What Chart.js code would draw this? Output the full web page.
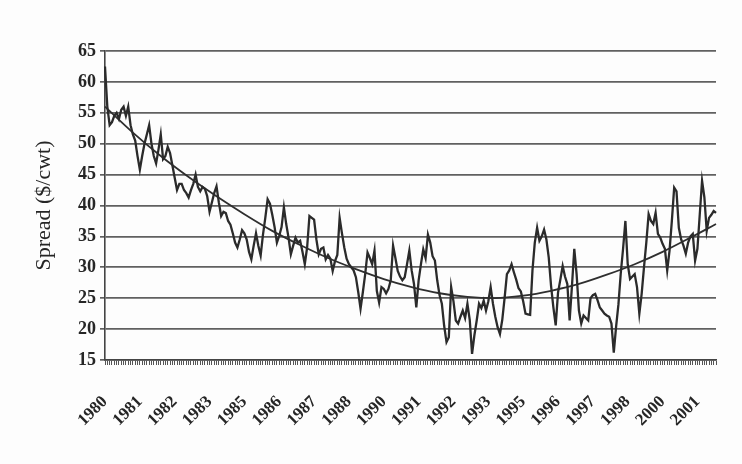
<!DOCTYPE html>
<html>
<head>
<meta charset="utf-8">
<script src="https://cdn.jsdelivr.net/npm/chart.js@4.4.1/dist/chart.umd.min.js"></script>
<style>
  html, body { margin: 0; padding: 0; background: #fdfdfd; }
  #wrap { width: 742px; height: 464px; position: relative; }
</style>
</head>
<body>
<div id="wrap"><canvas id="spread-chart"></canvas></div>
<script>
// --- Dados (mensal, jan/1980 a dez/2001) ---
const START_YEAR = 1980;
const LABEL_EVERY = 15; // um rótulo a cada 15 meses, como no original

const yearLabels = ['1980', '1981', '1982', '1983', '1985', '1986', '1987', '1988', '1990',
    '1991', '1992', '1993', '1995', '1996', '1997', '1998', '2000', '2001'];

const spread = [
    62.5, 56, 53, 53.5, 54.5, 55, 54, 55.5, 56, 54.5, 56, 53,
    51.5, 50.5, 48, 45.8, 48, 50, 51.5, 53, 50, 48, 46.8, 49,
    51.5, 47.5, 48, 49.5, 48.5, 46.5, 44.5, 42.5, 43.5, 43.5, 42.5, 42,
    41.3, 42.5, 43.5, 45, 43, 42.3, 43, 42.7, 41.5, 39, 40.5, 42,
    43.1, 40.5, 38.3, 39, 38.8, 37.5, 36.9, 35.5, 34, 33.2, 34.5, 36,
    35.5, 34.5, 32.5, 31.3, 33.5, 35.5, 33.5, 31.9, 35.3, 38, 41, 40.3,
    38.5, 36.5, 34, 35.1, 36.5, 39.7, 37, 34.8, 32.1, 33.5, 34.8, 34,
    34.3, 32.5, 30.5, 33.2, 38.3, 38, 37.7, 34.5, 32.1, 33, 33.2, 31.3,
    32, 31.4, 29.4, 31, 32, 38, 35.5, 33.2, 31.4, 30.5, 30, 29.5,
    28.4, 26, 23.3, 26, 28.9, 32.4, 31.5, 30.5, 32.7, 26.2, 24.3, 26.8,
    26.5, 25.8, 26.5, 27.9, 33.5, 31.5, 29.4, 28.5, 27.9, 28.4, 30.5, 32.7,
    29.5, 27.3, 23.5, 27.9, 30.5, 32.9, 31.5, 35.3, 34, 31.8, 31.1, 27.9,
    25.5, 24.1, 20.5, 17.9, 18.7, 26.8, 24.5, 21.4, 20.9, 22, 23, 21.8,
    24.1, 21.5, 16, 19, 21.4, 24.1, 23.4, 24.6, 23, 24.5, 26.8, 24.1,
    22, 20.3, 19.2, 21.5, 25, 28.9, 29.5, 30.5, 29.2, 28, 26.6, 26.1,
    24.5, 22.5, 22.4, 22.3, 29.5, 34, 36.4, 34.3, 35, 36.1, 34.5, 31.6,
    27, 23.5, 20.6, 25.9, 28, 30.2, 28.5, 27.3, 21.4, 27, 33, 28.9,
    23, 20.9, 22.2, 21.8, 21.4, 25, 25.5, 25.7, 24.7, 23.5, 23, 22.5,
    22.2, 22, 20.9, 16.2, 20.4, 24, 29, 33, 37.5, 30.5, 28.1, 28.5,
    28.9, 26.8, 22.5, 25.7, 30, 34, 38.6, 37.5, 37, 38.8, 35.4, 34.8,
    33.8, 33, 29.5, 32.7, 37.5, 42.9, 42.3, 36.4, 34.5, 33.5, 32.2, 34,
    35, 35.4, 31.1, 33, 38.5, 44, 41.3, 35.9, 38, 38.5, 39.1, 38.8
];

const trendMonths = [0, 12, 24, 36, 48, 60, 72, 84, 96, 108, 120, 132, 144,
    156, 168, 180, 192, 204, 216, 228, 240, 252, 263];
const trendValues = [56, 51.8, 48, 44.6, 41.5, 38.6, 35.9, 33.6, 31.5, 29.7, 28.1, 26.8, 25.8,
    25.2, 25.0, 25.4, 26.2, 27.3, 28.8, 30.5, 32.5, 34.8, 37.0];

const yTicks = [15, 20, 25, 30, 35, 40, 45, 50, 55, 60, 65];

// --- Montagem ---
const monthLabels = spread.map((_, i) => `${START_YEAR + Math.floor(i / 12)}-${(i % 12) + 1}`);
const trendData = spread.map(() => null);
trendMonths.forEach((m, k) => { trendData[m] = trendValues[k]; });

const serif = '"Liberation Serif", "DejaVu Serif", serif';

new Chart(document.getElementById('spread-chart').getContext('2d'), {
    type: 'line',
    data: {
        labels: monthLabels,
        datasets: [{
            label: 'Spread',
            data: spread,
            borderColor: '#2b2b2b',
            borderWidth: 2.3,
            pointRadius: 0,
            tension: 0,
            fill: false
        }, {
            label: 'Trend',
            data: trendData,
            borderColor: '#2f2f2f',
            borderWidth: 1.8,
            pointRadius: 0,
            spanGaps: true,
            cubicInterpolationMode: 'monotone',
            fill: false
        }]
    },
    options: {
        responsive: true, maintainAspectRatio: false,
        animation: false,
        layout: { padding: { left: 28, right: 26, top: 51, bottom: 0 } },
        plugins: {
            legend: { display: false },
            tooltip: { enabled: false }
        },
        scales: {
            x: {
                offset: false,
                grid: {
                    drawOnChartArea: false,
                    drawTicks: true,
                    tickLength: 5,
                    color: '#555',
                    lineWidth: 1
                },
                border: { display: true, color: '#444', width: 1.6 },
                ticks: {
                    autoSkip: false,
                    minRotation: 45,
                    maxRotation: 45,
                    padding: 27,
                    color: '#262626',
                    font: { family: serif, size: 17, weight: 'bold' },
                    callback: (value, index) => index % LABEL_EVERY === 0 ? yearLabels[index / LABEL_EVERY] : ''
                },
                afterFit: (scale) => {
                    scale.height = 104;
                    scale.paddingLeft = 0;
                    scale.paddingRight = 0;
                }
            },
            y: {
                min: 15,
                max: 65,
                afterBuildTicks: (scale) => { scale.ticks = yTicks.map(v => ({ value: v })); },
                grid: {
                    color: '#606060',
                    lineWidth: 1.7,
                    tickLength: 5
                },
                border: { display: true, color: '#444', width: 1.6 },
                ticks: {
                    padding: 4,
                    color: '#262626',
                    font: { family: serif, size: 18, weight: 'bold' }
                },
                title: {
                    display: true,
                    text: 'Spread ($/cwt)',
                    color: '#262626',
                    padding: { top: 3, bottom: 0 },
                    font: { family: serif, size: 22 }
                },
                afterFit: (scale) => { scale.width = 77; }
            }
        }
    }
});
</script>
</body>
</html>
